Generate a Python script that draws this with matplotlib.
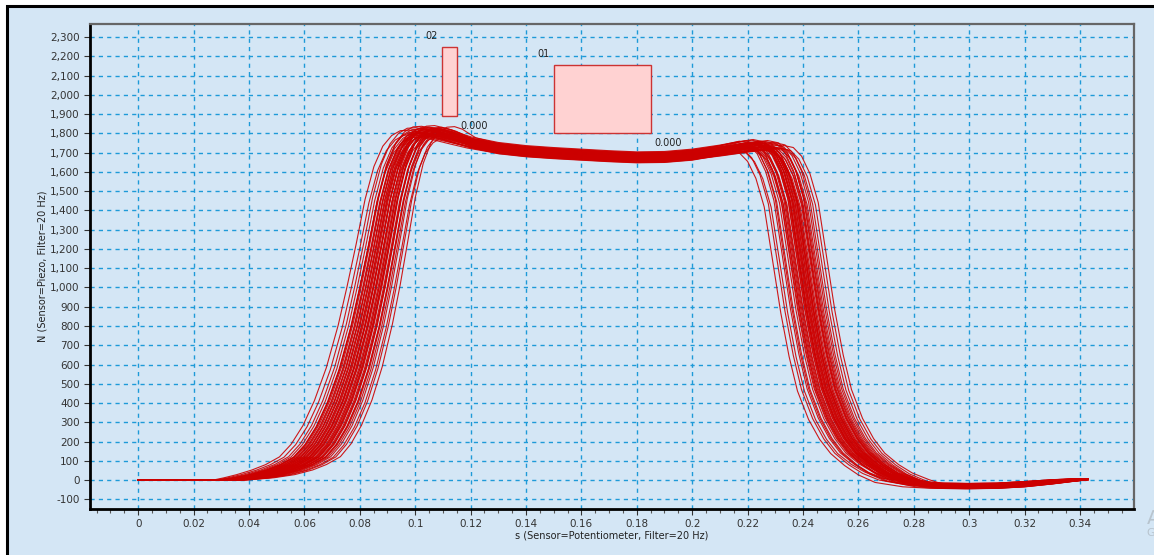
import numpy as np
import matplotlib
matplotlib.use("Agg")
import matplotlib.pyplot as plt
from matplotlib.patches import Rectangle
from matplotlib.ticker import MultipleLocator, FuncFormatter

# typical stroke (middle of the bundle)
base_s = [0.000, 0.033, 0.040, 0.046, 0.052, 0.057, 0.062, 0.066, 0.070, 0.074,
          0.078, 0.082, 0.085, 0.088, 0.091, 0.094, 0.097, 0.100, 0.103, 0.106,
          0.110, 0.115, 0.120, 0.130, 0.140, 0.150, 0.160, 0.170, 0.180, 0.190,
          0.200, 0.210, 0.218, 0.223, 0.227, 0.230, 0.233, 0.236, 0.239, 0.242,
          0.245, 0.248, 0.252, 0.256, 0.260, 0.265, 0.270, 0.276, 0.283, 0.290,
          0.300, 0.310, 0.320, 0.330, 0.337, 0.343]
base_n = [0, 0, 12, 28, 52, 80, 120, 185, 280, 410,
          580, 800, 1000, 1220, 1450, 1620, 1725, 1780, 1805, 1808,
          1795, 1772, 1750, 1722, 1706, 1696, 1688, 1680, 1674, 1676,
          1688, 1708, 1727, 1737, 1725, 1680, 1590, 1440, 1160, 880,
          650, 470, 320, 215, 140, 80, 35, 0, -20, -28,
          -30, -28, -20, -8, 0, 5]
# how much each point follows the rise / fall / tail variation
w_rise = [0, 0.6, 0.9, 1.05, 1.1, 1.1, 1.1, 1.08, 1.06, 1.04,
          1.01, 0.98, 0.96, 0.93, 0.91, 0.89, 0.87, 0.85, 0.84, 0.82,
          0.7, 0.45, 0.2, 0, 0, 0, 0, 0, 0, 0,
          0, 0, 0, 0, 0, 0, 0, 0, 0, 0,
          0, 0, 0, 0, 0, 0, 0, 0, 0, 0,
          0, 0, 0, 0, 0, 0]
w_fall = [0, 0, 0, 0, 0, 0, 0, 0, 0, 0,
          0, 0, 0, 0, 0, 0, 0, 0, 0, 0,
          0, 0, 0, 0, 0, 0, 0, 0, 0, 0,
          0, 0.3, 0.7, 1, 1, 1, 1, 1, 1, 1,
          1, 1, 1, 1, 1, 1, 1, 1, 0.7, 0.4,
          0.15, 0, 0, 0, 0, 0]
w_tail = [0, 0, 0, 0, 0, 0, 0, 0, 0, 0,
          0, 0, 0, 0, 0, 0, 0, 0, 0, 0,
          0, 0, 0, 0, 0, 0, 0, 0, 0, 0,
          0, 0, 0, 0, 0, 0, 0, 0, 0, 0,
          0, 0, 0, 0, 0, 0.2, 0.5, 0.8, 1, 1,
          1, 1, 1, 0.8, 0.5, 0.2]

# per-stroke deviations (x in 1/1000 s, level in %, tail in N)
rise_shift = [-10.0, -8.5, -7.0, -6.2, -5.5, -5.0, -4.5, -4.0, -3.6, -3.2,
              -2.8, -2.4, -2.0, -1.6, -1.2, -0.8, -0.4, 0.0, 0.4, 0.8,
              1.2, 1.6, 2.0, 2.4, 2.8, 3.2, 3.6, 4.0, 4.5, 5.0,
              5.5, 6.0, 6.8, 7.6, 8.5, 10.0, -3.0, -1.0, 1.0, 3.0,
              -5.2, 5.2, -2.2, 2.2, 0.2, -0.2, 4.2, -4.2]
fall_shift = [1.0, -2.0, 3.5, 0.5, -10.0, 4.5, -1.5, 2.0, 6.0, -3.0,
              0.0, 5.0, -0.5, 2.5, -4.0, 1.5, 7.5, -2.5, 3.0, -5.5,
              -1.0, 4.0, 9.5, -3.5, 1.8, -0.2, 5.5, -4.5, -6.0, 3.8,
              0.3, -1.8, 6.5, -7.5, -0.8, 4.2, 1.2, -2.8, 8.5, 0.6,
              -3.2, -1.2, 2.6, -6.5, 1.6, -8.5, -0.6, 3.4]
level = [0.5, -0.8, 1.2, 0.0, -1.5, 0.8, 1.6, -0.4, 0.3, -1.0,
         1.0, -0.2, 0.6, -1.2, 1.4, 0.2, -0.6, 0.9, -1.4, 0.4,
         1.8, -0.3, 0.1, -0.9, 0.7, 1.1, -0.7, 0.0, 1.3, -1.1,
         0.5, -0.5, 0.9, -1.6, 0.2, 1.5, -0.1, 0.6, -0.8, 1.0,
         -0.3, 0.4, -1.3, 0.8, 1.2, -0.4, 0.3, -0.6]
tail_dy = [-12, 6, -3, 9, -15, 3, -8, 12, 0, -9,
           5, -13, 8, -4, 10, -2, -10, 2, 9, -6,
           13, -12, 3, -3, 6, -9, 0, 10, -8, 5,
           -14, 8, -2, 12, -10, 2, -5, 9, -6, 3,
           -15, 6, -3, 10, -9, 0, 5, -8]

# markers drawn on the chart
marker_names = ["02", "01"]
marker_s0 = [0.1095, 0.150]
marker_s1 = [0.1150, 0.185]
marker_n0 = [1890, 1802]
marker_n1 = [2248, 2155]
marker_values = ["0.000", "0.000"]

bg = "#D4E6F5"
red = "#CC0000"
grid_col = "#1E9AD8"

fig = plt.figure(figsize=(11.54, 5.55), dpi=100, facecolor="white")
# outer panel with black frame
fig.patches.append(Rectangle((7 / 1154, -0.1), 1.2, 1.1 - 6 / 555,
                             transform=fig.transFigure, facecolor=bg,
                             edgecolor="black", linewidth=2.2, zorder=-5))
fig.text(1147 / 1154, 1 - 518 / 555, "Activate Windows", fontsize=14,
         color="#B8C4CE", va="center", ha="left")
fig.text(1147 / 1154, 1 - 533 / 555, "Go to Settings", fontsize=8,
         color="#B8C4CE", va="center", ha="left")

ax = fig.add_axes([90 / 1154, 46 / 555, 1044 / 1154, 485 / 555])
ax.set_facecolor(bg)

bs = np.array(base_s)
bn = np.array(base_n)
wr = np.array(w_rise)
wf = np.array(w_fall)
wt = np.array(w_tail)
for dr, df, lv, ty in zip(rise_shift, fall_shift, level, tail_dy):
    s = bs + wr * dr / 1000 + wf * df / 1000
    n = bn * (1 + lv / 100) + wt * ty
    ax.plot(s, n, color=red, lw=0.8, alpha=0.9, solid_joinstyle="round")

for name, x0, x1, y0, y1, val in zip(marker_names, marker_s0, marker_s1,
                                     marker_n0, marker_n1, marker_values):
    ax.add_patch(Rectangle((x0, y0), x1 - x0, y1 - y0, facecolor="#FFD2D2",
                           edgecolor="#CC3333", lw=1.0, zorder=4))
    ax.text(x0 - 0.0015, y1 + 30, name, fontsize=7, color="#222222",
            ha="right", va="bottom", zorder=5)
    ax.text(x1 + 0.0012, y0 - 25, val, fontsize=7, color="#222222",
            ha="left", va="top", zorder=5)

ax.set_xlim(-0.0174, 0.3595)
ax.set_ylim(-150, 2368)
ax.xaxis.set_major_locator(MultipleLocator(0.02))
ax.xaxis.set_minor_locator(MultipleLocator(0.005))
ax.yaxis.set_major_locator(MultipleLocator(100))
ax.xaxis.set_major_formatter(FuncFormatter(
    lambda v, p: "" if v < -1e-9 else ("0" if abs(v) < 1e-9 else "%g" % round(v, 2))))
ax.yaxis.set_major_formatter(FuncFormatter(lambda v, p: "{:,.0f}".format(v)))
ax.tick_params(axis="both", which="major", labelsize=7.5, labelcolor="#333333",
               length=4, width=0.8, color="#333333")
ax.tick_params(axis="x", which="minor", length=3, width=0.8, color="#555555")
ax.tick_params(axis="x", pad=3)

ax.grid(True, which="major", color=grid_col, linestyle=(0, (3, 3)), lw=1.0)
ax.set_axisbelow(True)

for side in ["left", "bottom"]:
    ax.spines[side].set_color("black")
    ax.spines[side].set_linewidth(2.0)
for side in ["top", "right"]:
    ax.spines[side].set_color("#666666")
    ax.spines[side].set_linewidth(1.6)

ax.set_xlabel("s (Sensor=Potentiometer, Filter=20 Hz)", fontsize=7,
              color="#222222", labelpad=1)
ax.set_ylabel("N (Sensor=Piezo, Filter=20 Hz)", fontsize=7, color="#222222")
ax.yaxis.set_label_coords(-0.041, 0.5)

fig.savefig("out.png", dpi=100, facecolor=fig.get_facecolor())
